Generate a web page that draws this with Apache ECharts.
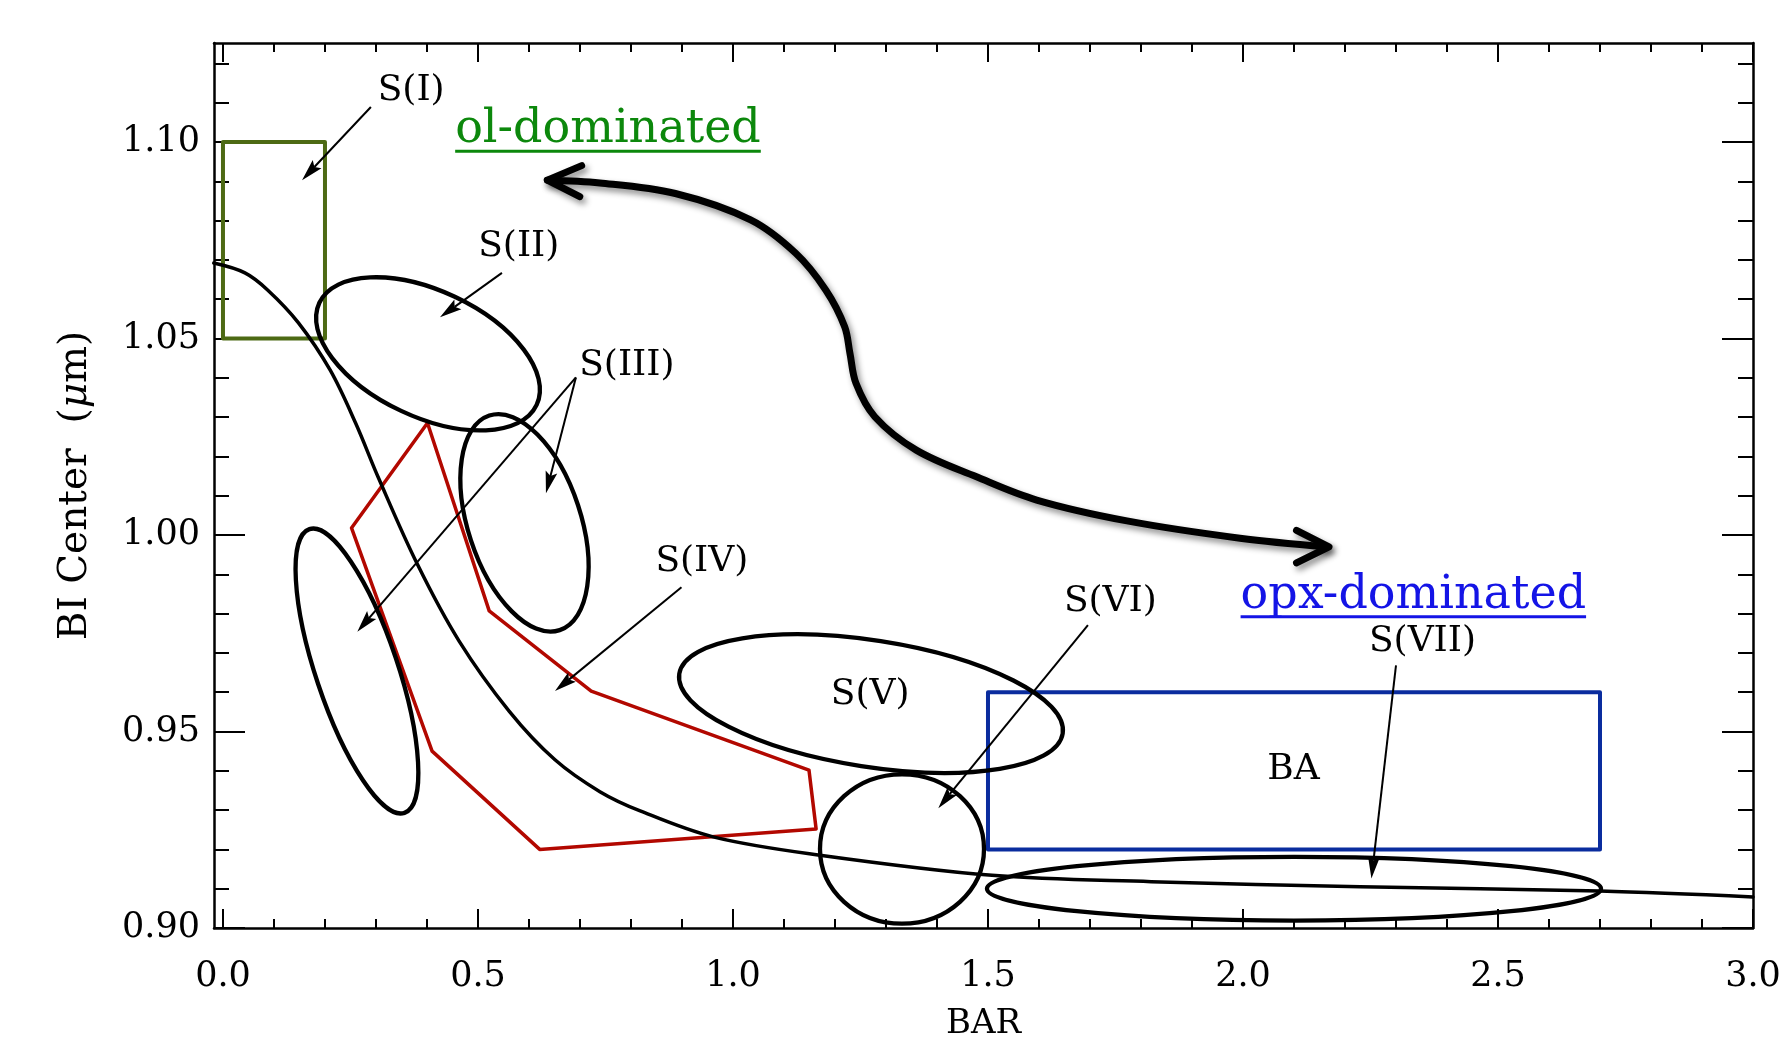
<!DOCTYPE html>
<html><head><meta charset="utf-8">
<script src="https://cdn.jsdelivr.net/npm/echarts@6/dist/echarts.min.js"></script>
<style>html,body{margin:0;padding:0;background:#fff}#c{width:1781px;height:1041px}</style>
</head><body><div id="c"></div>
<script>
const FONT = '"DejaVu Serif", serif';

// ---- axes ----
const xRange = [-0.0176, 3.0];
const yRange = [0.90, 1.1252];
const xMajorTicks = [0.0, 0.5, 1.0, 1.5, 2.0, 2.5, 3.0];
const xMinorTicks = [0.1,0.2,0.3,0.4,0.6,0.7,0.8,0.9,1.1,1.2,1.3,1.4,1.6,1.7,1.8,1.9,2.1,2.2,2.3,2.4,2.6,2.7,2.8,2.9];
const yMajorTicks = [0.90, 0.95, 1.00, 1.05, 1.10];
const yMinorTicks = [0.91,0.92,0.93,0.94,0.96,0.97,0.98,0.99,1.01,1.02,1.03,1.04,1.06,1.07,1.08,1.09,1.11,1.12];

// ---- main black trend curve ----
const curveBar    = [-0.018, 0.043, 0.088, 0.148, 0.210, 0.260, 0.305, 0.381, 0.463, 0.561, 0.651, 0.739, 0.818, 0.961, 1.167, 1.508, 1.820, 2.230, 2.700, 3.000];
const curveCenter = [1.0692, 1.0667, 1.0623, 1.0540, 1.0420, 1.0285, 1.0145, 0.9926, 0.9730, 0.9552, 0.9428, 0.9347, 0.9298, 0.9232, 0.9186, 0.9134, 0.9118, 0.9105, 0.9094, 0.9079];

// ---- S(I) olivine box and BA box ----
const olBoxBar = [0.0, 0.2];
const olBoxCenter = [1.05, 1.10];
const baBoxBar = [1.5, 2.7];
const baBoxCenter = [0.92, 0.96];

// ---- S(IV) red polygon ----
const redBar    = [0.401, 0.522, 0.722, 1.149, 1.163, 0.621, 0.410, 0.252, 0.401];
const redCenter = [1.0285, 0.9807, 0.9603, 0.9402, 0.9252, 0.9200, 0.9450, 1.0018, 1.0285];

// ---- ellipses: centre, end of major semi-axis, end of minor semi-axis ----
const ellNames     = ['S(II)', 'S(III)a', 'S(III)b', 'S(V)', 'S(VI)', 'S(VII)'];
const ellCenterBar = [0.402, 0.5912, 0.2627, 1.2706, 1.3314, 2.100];
const ellCenterY   = [1.0461, 1.0031, 0.9654, 0.9571, 0.9201, 0.9100];
const ellMajorBar  = [0.615, 0.6602, 0.3559, 1.6465, 1.4922, 2.702];
const ellMajorY    = [1.0331, 0.9758, 0.9293, 0.9495, 0.9201, 0.9100];
const ellMinorBar  = [0.349, 0.4863, 0.1865, 1.2514, 1.3314, 2.100];
const ellMinorY    = [1.0316, 0.9986, 0.9621, 0.9412, 0.9011, 0.9019];

// ---- thin annotation arrows (from -> to) ----
const arrFromBar = [0.290, 0.547, 0.692, 0.692, 0.899, 1.696, 2.300];
const arrFromY   = [1.1089, 1.0667, 1.0401, 1.0401, 0.9867, 0.9771, 0.9668];
const arrToBar   = [0.155, 0.4255, 0.2634, 0.6333, 0.651, 1.4026, 2.2518];
const arrToY     = [1.0903, 1.0554, 0.9754, 1.0106, 0.9603, 0.9305, 0.9126];

// ---- labels ----
const labelText   = ['S(I)', 'S(II)', 'S(III)', 'S(IV)', 'S(V)', 'S(VI)', 'S(VII)', 'BA'];
const labelBar    = [0.369, 0.580, 0.792, 0.939, 1.269, 1.740, 2.352, 2.099];
const labelCenter = [1.1132, 1.0734, 1.0432, 0.9932, 0.9593, 0.9830, 0.9729, 0.9402];

// ---- big double-headed arrow ----
const bigBar    = [0.636, 0.739, 0.887, 1.0345, 1.1231, 1.1822, 1.2190, 1.2294, 1.2412, 1.2780, 1.3594, 1.4775, 1.5955, 1.7725, 1.9941, 2.1639];
const bigCenter = [1.0903, 1.0896, 1.0869, 1.0802, 1.0717, 1.0623, 1.0530, 1.0462, 1.0386, 1.0301, 1.0216, 1.0148, 1.0089, 1.0036, 0.9992, 0.9970];
const headLeftBar = [0.7033, 0.6359, 0.6996];
const headLeftY   = [1.0940, 1.0903, 1.0861];
const headRightBar = [2.1049, 2.1686, 2.1049];
const headRightY   = [1.0012, 0.9970, 0.9929];

// ---- underlined region titles ----
const titleText   = ['ol-dominated', 'opx-dominated'];
const titleBar    = [0.7549, 2.334];
const titleCenter = [1.1030, 0.9845];
const titleColor  = ['#0c880c', '#1414e6'];

const zip = (a, b) => a.map((v, i) => [v, b[i]]);

const measureCtx = document.createElement('canvas').getContext('2d');

function lineSeries(data, color, width, extra) {
  return Object.assign({
    type: 'line', data: data, symbol: 'none', showSymbol: false, silent: true,
    animation: false, z: 3,
    lineStyle: { color: color, width: width, cap: 'round', join: 'round' }
  }, extra || {});
}

function boxData(bx, by) {
  return [[bx[0], by[0]], [bx[0], by[1]], [bx[1], by[1]], [bx[1], by[0]], [bx[0], by[0]]];
}

const ellipseData = ellNames.map((n, i) => [ellCenterBar[i], ellCenterY[i], ellMajorBar[i], ellMajorY[i], ellMinorBar[i], ellMinorY[i]]);
const arrowData = arrFromBar.map((v, i) => [v, arrFromY[i], arrToBar[i], arrToY[i]]);
const labelData = labelText.map((t, i) => [labelBar[i], labelCenter[i]]);
const titleData = titleText.map((t, i) => [titleBar[i], titleCenter[i]]);

function xAx(pos, ticks, len, withLabel, showLine) {
  return {
    type: 'value', position: pos, min: xRange[0], max: xRange[1],
    splitLine: { show: false },
    axisLine: { show: showLine, onZero: false, lineStyle: { color: '#000', width: 2.5 } },
    axisTick: { show: true, inside: true, length: len, customValues: ticks, lineStyle: { color: '#000', width: 2 } },
    axisLabel: withLabel ? { show: true, customValues: ticks, margin: 31, color: '#000', fontSize: 35, fontFamily: FONT,
      formatter: v => v.toFixed(1) } : { show: false },
    name: withLabel ? 'BAR' : '', nameLocation: 'middle', nameGap: 79,
    nameTextStyle: { color: '#000', fontSize: 34, fontFamily: FONT }
  };
}
function yAx(pos, ticks, len, withLabel, showLine) {
  return {
    type: 'value', position: pos, min: yRange[0], max: yRange[1],
    splitLine: { show: false },
    axisLine: { show: showLine, onZero: false, lineStyle: { color: '#000', width: 2.5 } },
    axisTick: { show: true, inside: true, length: len, customValues: ticks, lineStyle: { color: '#000', width: 2 } },
    axisLabel: withLabel ? { show: true, customValues: ticks, margin: 14, color: '#000', fontSize: 35, fontFamily: FONT,
      formatter: v => v.toFixed(2) } : { show: false },
    name: withLabel ? 'BI Center  ({mu|\u03bc}m)' : '', nameLocation: 'middle', nameGap: 119,
    nameTextStyle: { color: '#000', fontSize: 39, fontFamily: FONT,
      rich: { mu: { fontStyle: 'italic', fontSize: 39, fontFamily: FONT, color: '#000' } } }
  };
}

const bigStyle = { color: '#000', width: 7, cap: 'round', join: 'round',
  shadowColor: 'rgba(0,0,0,0.45)', shadowBlur: 6, shadowOffsetX: 3, shadowOffsetY: 4 };

const option = {
  backgroundColor: '#fff',
  animation: false,
  grid: { left: 214, top: 43, width: 1539, height: 885, containLabel: false, outerBoundsMode: 'none', show: false },
  xAxis: [
    xAx('bottom', xMajorTicks, 19, true, true),
    xAx('bottom', xMinorTicks, 9, false, false),
    xAx('top', xMajorTicks, 19, false, true),
    xAx('top', xMinorTicks, 9, false, false)
  ],
  yAxis: [
    yAx('left', yMajorTicks, 31, true, true),
    yAx('left', yMinorTicks, 15, false, false),
    yAx('right', yMajorTicks, 31, false, true),
    yAx('right', yMinorTicks, 15, false, false)
  ],
  series: [
    lineSeries(boxData(olBoxBar, olBoxCenter), '#4d6a14', 4),
    lineSeries(boxData(baBoxBar, baBoxCenter), '#0a2c9e', 4),
    lineSeries(zip(redBar, redCenter), '#b20800', 3.5),
    lineSeries(zip(curveBar, curveCenter), '#000', 3.5, { smooth: 0.35 }),
    lineSeries(zip(bigBar, bigCenter), '#000', 7, { smooth: 0.35, z: 5, lineStyle: bigStyle }),
    lineSeries(zip(headLeftBar, headLeftY), '#000', 7, { z: 5, lineStyle: bigStyle }),
    lineSeries(zip(headRightBar, headRightY), '#000', 7, { z: 5, lineStyle: bigStyle }),
    {
      type: 'custom', data: ellipseData, silent: true, animation: false, clip: false, z: 4,
      encode: { x: [0, 2, 4], y: [1, 3, 5] },
      renderItem: function (params, api) {
        const c = api.coord([api.value(0), api.value(1)]);
        const p = api.coord([api.value(2), api.value(3)]);
        const q = api.coord([api.value(4), api.value(5)]);
        const rx = Math.hypot(p[0] - c[0], p[1] - c[1]);
        const ry = Math.hypot(q[0] - c[0], q[1] - c[1]);
        const ang = Math.atan2(p[1] - c[1], p[0] - c[0]);
        return {
          type: 'ellipse', x: c[0], y: c[1], rotation: -ang,
          shape: { cx: 0, cy: 0, rx: rx, ry: ry },
          style: { fill: 'none', stroke: '#000', lineWidth: 4.3 }
        };
      }
    },
    {
      type: 'custom', data: arrowData, silent: true, animation: false, clip: false, z: 6,
      encode: { x: [0, 2], y: [1, 3] },
      renderItem: function (params, api) {
        const a = api.coord([api.value(0), api.value(1)]);
        const b = api.coord([api.value(2), api.value(3)]);
        const dx = b[0] - a[0], dy = b[1] - a[1];
        const L = Math.hypot(dx, dy), ux = dx / L, uy = dy / L;
        const hl = 22, hw = 6;
        const bx = b[0] - ux * hl, by = b[1] - uy * hl;
        return {
          type: 'group', children: [
            { type: 'line', shape: { x1: a[0], y1: a[1], x2: bx + ux * 4, y2: by + uy * 4 },
              style: { stroke: '#000', lineWidth: 2 } },
            { type: 'polygon', shape: { points: [[b[0], b[1]], [bx - uy * hw, by + ux * hw], [bx + ux * 4, by + uy * 4], [bx + uy * hw, by - ux * hw]] },
              style: { fill: '#000' } }
          ]
        };
      }
    },
    {
      type: 'custom', data: labelData, silent: true, animation: false, clip: false, z: 7,
      encode: { x: 0, y: 1 },
      renderItem: function (params, api) {
        const c = api.coord([api.value(0), api.value(1)]);
        return {
          type: 'text', x: c[0], y: c[1],
          style: { text: labelText[params.dataIndex], fontSize: 36, fontFamily: FONT, fill: '#000',
            align: 'center', verticalAlign: 'middle', textAlign: 'center', textVerticalAlign: 'middle' }
        };
      }
    },
    {
      type: 'custom', data: titleData, silent: true, animation: false, clip: false, z: 7,
      encode: { x: 0, y: 1 },
      renderItem: function (params, api) {
        const c = api.coord([api.value(0), api.value(1)]);
        const i = params.dataIndex;
        const fs = 46;
        measureCtx.font = fs + 'px ' + FONT;
        const w = measureCtx.measureText(titleText[i]).width;
        const uy = c[1] + fs * 0.346 + 5;
        return {
          type: 'group', children: [
            { type: 'text', x: c[0], y: c[1],
              style: { text: titleText[i], fontSize: fs, fontFamily: FONT, fill: titleColor[i],
                align: 'center', verticalAlign: 'middle', textAlign: 'center', textVerticalAlign: 'middle' } },
            { type: 'line', shape: { x1: c[0] - w / 2, y1: uy, x2: c[0] + w / 2, y2: uy },
              style: { stroke: titleColor[i], lineWidth: 3 } }
          ]
        };
      }
    }
  ]
};

const chart = echarts.init(document.getElementById('c'), null, { renderer: 'canvas' });
chart.setOption(option);
</script>
</body></html>
